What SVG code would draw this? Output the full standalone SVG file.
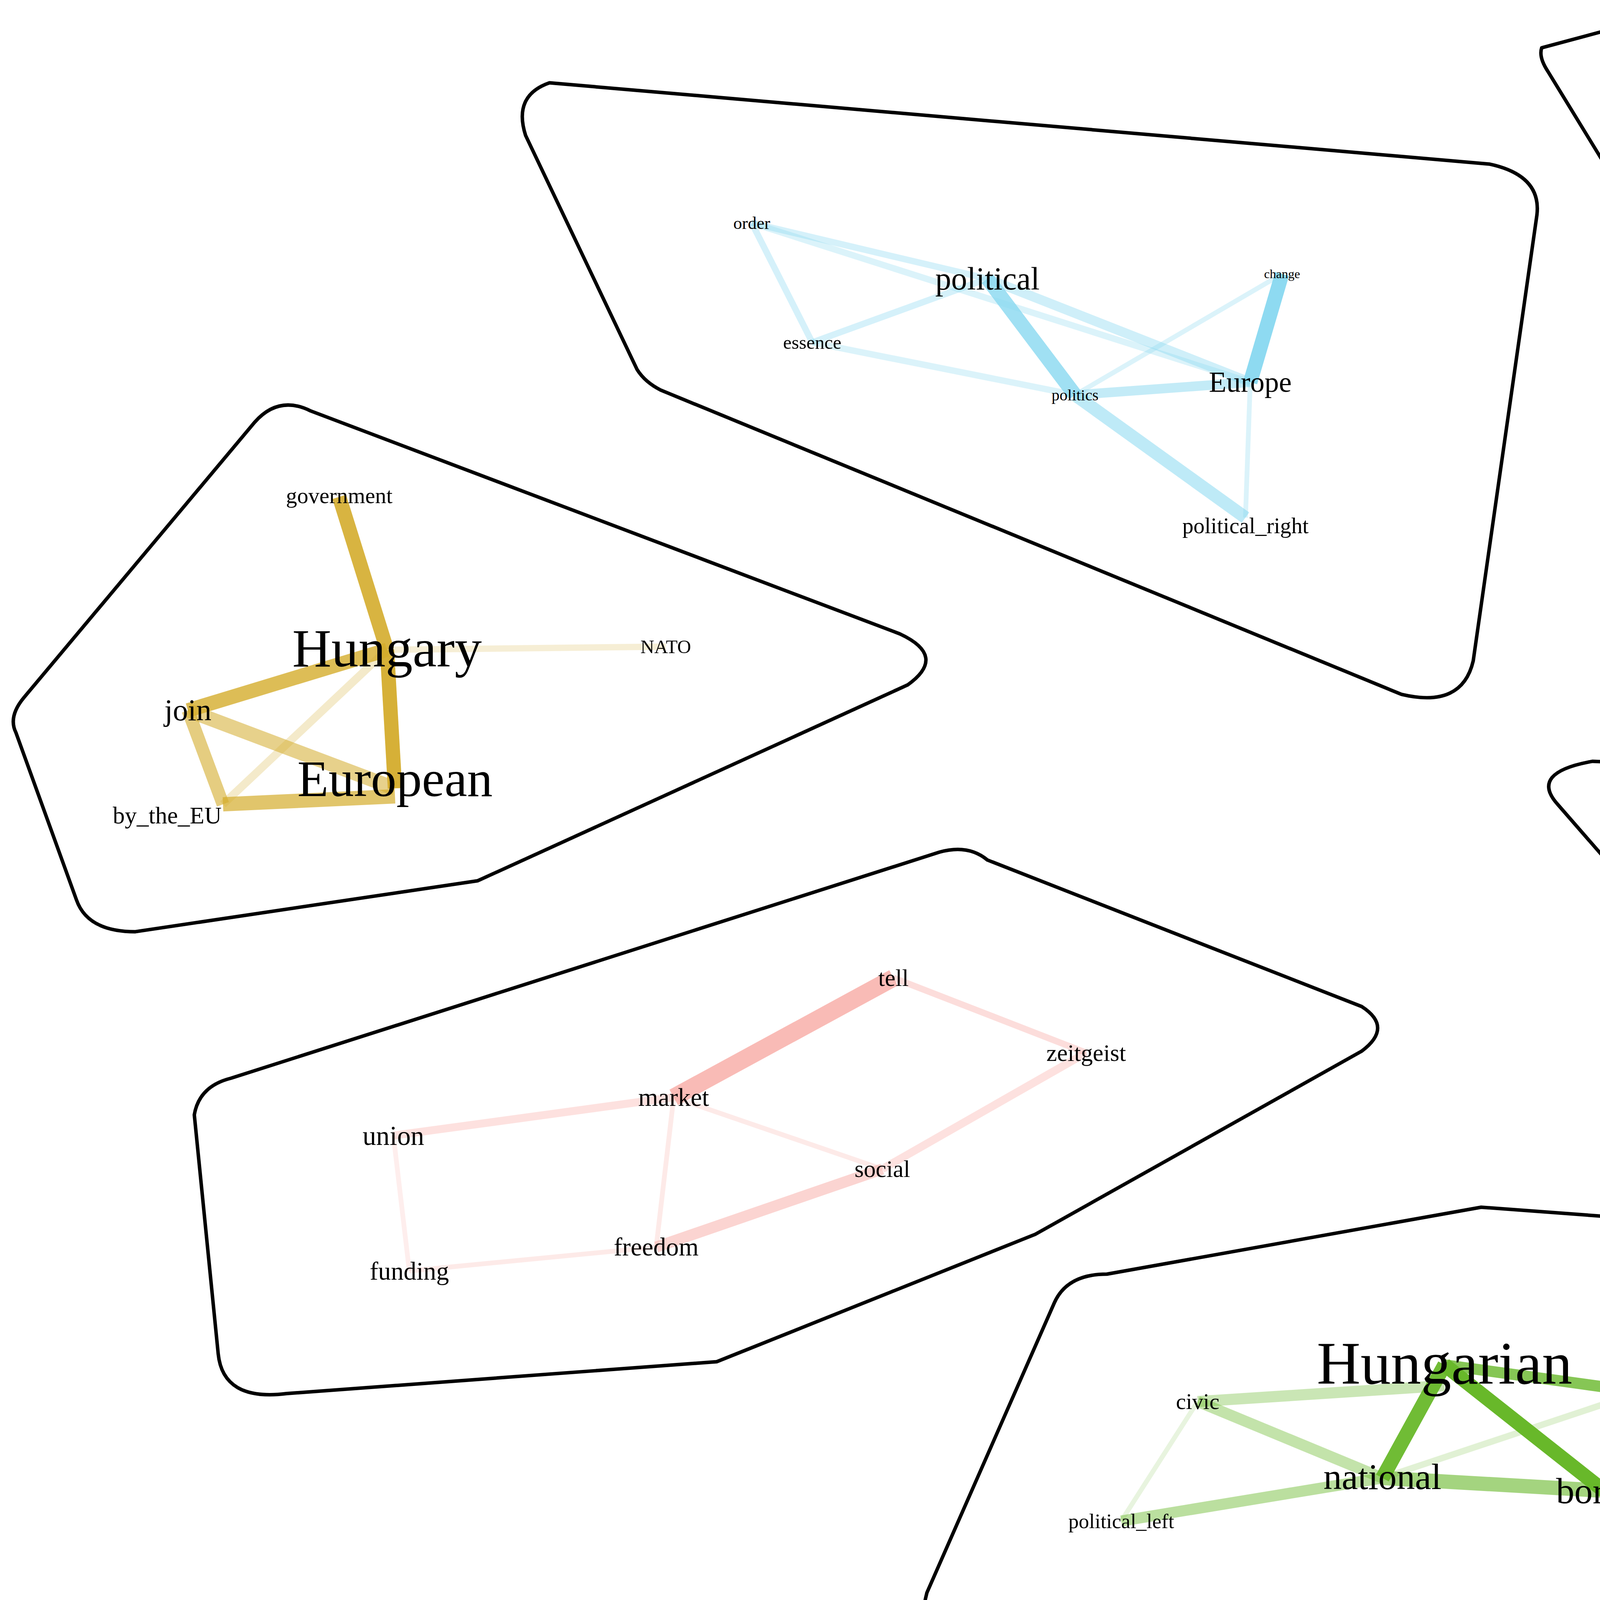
<svg xmlns="http://www.w3.org/2000/svg" width="6393" height="4310" viewBox="0 0 6393 4310">
<style>
.hull{fill:none;stroke:#000;stroke-width:2.2;stroke-linejoin:round}
text{font-family:"Liberation Serif","DejaVu Serif",serif;text-anchor:middle;dominant-baseline:central;fill:#000}
.b{stroke:#88d8f0}.g{stroke:#d4ac2c}.p{stroke:#f59ee0}.t{stroke:#00c08e}.r{stroke:#f8aaa4}.v{stroke:#68b82a}
</style>
<rect width="6393" height="4310" fill="#fff"/>
<g transform="scale(4.0772)">
<g id="hulls">
<path class="hull" d="M330,85 Q322,60 345,52 L935,103 Q968,110 965,135 L925,415 Q918,445 880,436 L415,245 Q405,240 400,232 Z"/>
<path class="hull" d="M968,30 L1035,12 L1240,97 Q1268,110 1263,135 L1245,385 Q1240,418 1212,415 Q1195,412 1188,398 L972,45 Q966,36 968,30 Z"/>
<path class="hull" d="M10,460 Q5,450 15,438 L160,265 Q175,248 195,258 L565,398 Q595,412 570,430 L300,553 L85,585 Q55,585 48,565 Z"/>
<path class="hull" d="M978,505 Q960,485 1000,478 L1375,493 Q1395,495 1405,505 L1545,593 Q1555,600 1550,615 L1500,850 Q1495,875 1460,875 L1440,870 L1218,742 L1100,645 Z"/>
<path class="hull" d="M122,700 Q125,682 145,677 L590,535 Q608,530 620,540 L855,632 Q875,645 855,660 L650,775 L450,855 L180,875 Q140,880 137,850 Z"/>
<path class="hull" d="M582,1000 L662,818 Q670,800 695,800 L930,758 L1160,775 Q1190,785 1185,815 L1140,995 Q1135,1015 1105,1016 L625,1046 Q570,1045 582,1000 Z"/>
</g>
<g id="connectors" fill="none">
<g class="b">
<line x1="472" y1="140" x2="620" y2="175" stroke-width="4" opacity="0.35"/>
<line x1="472" y1="140" x2="510" y2="215" stroke-width="4" opacity="0.35"/>
<line x1="472" y1="140" x2="785" y2="240" stroke-width="4" opacity="0.3"/>
<line x1="510" y1="215" x2="620" y2="175" stroke-width="4" opacity="0.35"/>
<line x1="510" y1="215" x2="675" y2="248" stroke-width="4" opacity="0.3"/>
<line x1="620" y1="175" x2="675" y2="248" stroke-width="9" opacity="0.8"/>
<line x1="675" y1="248" x2="782" y2="325" stroke-width="8" opacity="0.55"/>
<line x1="620" y1="175" x2="785" y2="240" stroke-width="6" opacity="0.4"/>
<line x1="675" y1="248" x2="785" y2="240" stroke-width="6" opacity="0.5"/>
<line x1="675" y1="248" x2="805" y2="172" stroke-width="3" opacity="0.3"/>
<line x1="805" y1="172" x2="785" y2="240" stroke-width="9" opacity="0.95"/>
<line x1="785" y1="240" x2="782" y2="325" stroke-width="3" opacity="0.3"/>
</g>
<g class="g">
<line x1="213" y1="312" x2="243" y2="408" stroke-width="9" opacity="0.9"/>
<line x1="243" y1="408" x2="418" y2="406" stroke-width="4" opacity="0.2"/>
<line x1="243" y1="408" x2="118" y2="446" stroke-width="9" opacity="0.8"/>
<line x1="243" y1="408" x2="248" y2="495" stroke-width="9" opacity="0.95"/>
<line x1="243" y1="408" x2="140" y2="505" stroke-width="5" opacity="0.25"/>
<line x1="118" y1="446" x2="248" y2="495" stroke-width="9" opacity="0.55"/>
<line x1="118" y1="446" x2="140" y2="505" stroke-width="8" opacity="0.6"/>
<line x1="140" y1="505" x2="248" y2="500" stroke-width="9" opacity="0.7"/>
</g>
<g class="p">
<line x1="1060" y1="70" x2="1178" y2="117" stroke-width="6" opacity="0.95"/>
<line x1="1178" y1="117" x2="1135" y2="190" stroke-width="3" opacity="0.25"/>
</g>
<g class="t">
<line x1="1210" y1="573" x2="1370" y2="580" stroke-width="9" opacity="0.95"/>
<line x1="1210" y1="573" x2="1268" y2="658" stroke-width="8" opacity="0.5"/>
<line x1="1210" y1="573" x2="1424" y2="798" stroke-width="7" opacity="0.35"/>
<line x1="1210" y1="573" x2="1424" y2="697" stroke-width="4" opacity="0.2"/>
<line x1="1370" y1="580" x2="1268" y2="658" stroke-width="9" opacity="0.7"/>
<line x1="1370" y1="580" x2="1335" y2="630" stroke-width="6" opacity="0.5"/>
<line x1="1370" y1="580" x2="1450" y2="643" stroke-width="3" opacity="0.2"/>
<line x1="1370" y1="580" x2="1424" y2="697" stroke-width="3" opacity="0.2"/>
<line x1="1335" y1="630" x2="1450" y2="643" stroke-width="9" opacity="0.85"/>
<line x1="1335" y1="630" x2="1340" y2="727" stroke-width="9" opacity="0.8"/>
<line x1="1268" y1="658" x2="1340" y2="727" stroke-width="11" opacity="0.6"/>
<line x1="1268" y1="658" x2="1450" y2="643" stroke-width="5" opacity="0.2"/>
<line x1="1268" y1="658" x2="1424" y2="697" stroke-width="6" opacity="0.3"/>
<line x1="1450" y1="643" x2="1424" y2="697" stroke-width="4" opacity="0.2"/>
<line x1="1450" y1="643" x2="1424" y2="798" stroke-width="3" opacity="0.15"/>
<line x1="1450" y1="643" x2="1340" y2="727" stroke-width="4" opacity="0.2"/>
<line x1="1340" y1="727" x2="1424" y2="798" stroke-width="7" opacity="0.35"/>
<line x1="1340" y1="727" x2="1424" y2="697" stroke-width="4" opacity="0.2"/>
<line x1="1424" y1="697" x2="1424" y2="798" stroke-width="3" opacity="0.2"/>
</g>
<g class="r">
<line x1="423" y1="689" x2="561" y2="614" stroke-width="11" opacity="0.8"/>
<line x1="561" y1="614" x2="682" y2="661" stroke-width="4" opacity="0.4"/>
<line x1="423" y1="689" x2="247" y2="713" stroke-width="5" opacity="0.35"/>
<line x1="423" y1="689" x2="554" y2="734" stroke-width="3" opacity="0.25"/>
<line x1="423" y1="689" x2="412" y2="783" stroke-width="3" opacity="0.25"/>
<line x1="682" y1="661" x2="554" y2="734" stroke-width="5" opacity="0.35"/>
<line x1="554" y1="734" x2="412" y2="783" stroke-width="7" opacity="0.5"/>
<line x1="247" y1="713" x2="257" y2="798" stroke-width="3" opacity="0.2"/>
<line x1="257" y1="798" x2="412" y2="783" stroke-width="3" opacity="0.25"/>
</g>
<g class="v">
<line x1="907" y1="857" x2="868" y2="928" stroke-width="9" opacity="0.95"/>
<line x1="907" y1="857" x2="1007" y2="936" stroke-width="9" opacity="1"/>
<line x1="907" y1="857" x2="1030" y2="874" stroke-width="7" opacity="0.8"/>
<line x1="1030" y1="874" x2="1007" y2="936" stroke-width="9" opacity="0.85"/>
<line x1="752" y1="880" x2="907" y2="870" stroke-width="7" opacity="0.35"/>
<line x1="752" y1="880" x2="868" y2="928" stroke-width="7" opacity="0.4"/>
<line x1="752" y1="880" x2="704" y2="955" stroke-width="3" opacity="0.15"/>
<line x1="704" y1="955" x2="868" y2="928" stroke-width="7" opacity="0.45"/>
<line x1="868" y1="928" x2="1007" y2="936" stroke-width="9" opacity="0.6"/>
<line x1="868" y1="928" x2="1030" y2="874" stroke-width="4" opacity="0.2"/>
</g>
</g>
<g id="n-blue">
<text x="472" y="140" font-size="11">order</text>
<text x="620" y="175" font-size="20">political</text>
<text x="805" y="172" font-size="8">change</text>
<text x="510" y="215" font-size="12">essence</text>
<text x="675" y="248" font-size="10">politics</text>
<text x="785" y="240" font-size="18">Europe</text>
<text x="782" y="330" font-size="14">political_right</text>
</g>
<g id="n-gold">
<text x="213" y="311" font-size="14">government</text>
<text x="243" y="407" font-size="34">Hungary</text>
<text x="418" y="406" font-size="12">NATO</text>
<text x="118" y="446" font-size="19">join</text>
<text x="248" y="489" font-size="32">European</text>
<text x="105" y="512" font-size="15">by_the_EU</text>
</g>
<g id="n-pink">
<text x="1060" y="70" font-size="14">feel</text>
<text x="1178" y="117" font-size="21">world</text>
<text x="1135" y="190" font-size="13">culture</text>
</g>
<g id="n-teal">
<text x="1210" y="573" font-size="18">social</text>
<text x="1370" y="580" font-size="15">balance</text>
<text x="1335" y="630" font-size="21">competitive</text>
<text x="1450" y="643" font-size="30">nation</text>
<text x="1268" y="658" font-size="15">society</text>
<text x="1424" y="697" font-size="13">do</text>
<text x="1340" y="727" font-size="25">economy</text>
<text x="1424" y="798" font-size="13">integration</text>
</g>
<g id="n-red">
<text x="561" y="614" font-size="15">tell</text>
<text x="682" y="661" font-size="15">zeitgeist</text>
<text x="423" y="689" font-size="16">market</text>
<text x="247" y="713" font-size="17">union</text>
<text x="554" y="734" font-size="15">social</text>
<text x="412" y="783" font-size="16">freedom</text>
<text x="257" y="798" font-size="16">funding</text>
</g>
<g id="n-green">
<text x="907" y="856" font-size="38">Hungarian</text>
<text x="752" y="880" font-size="14">civic</text>
<text x="1069" y="874" font-size="12">beyond_the_border</text>
<text x="868" y="927" font-size="23">national</text>
<text x="1007" y="936" font-size="23">border</text>
<text x="704" y="955" font-size="13">political_left</text>
</g>
</g>
</svg>
